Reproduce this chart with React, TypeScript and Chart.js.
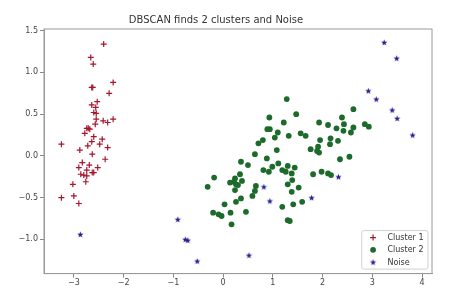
import React, { useEffect, useRef } from 'react';
import { Chart, registerables } from 'chart.js';

Chart.register(...registerables);

const TITLE = 'DBSCAN finds 2 clusters and Noise';
const seriesNames = ['Cluster 1', 'Cluster 2', 'Noise'];

const cluster1X = [-2.40, -2.66, -2.61, -2.21, -2.64, -2.62, -2.29, -2.53, -2.64, -2.56, -2.60, -2.55, -2.55, -2.41, -2.32, -2.21, -2.57, -2.74, -2.68, -2.71, -2.78, -2.60, -2.43, -2.64, -3.25, -2.48, -2.72, -2.32, -2.88, -2.63, -2.37, -2.90, -2.69, -2.52, -2.83, -2.74, -2.63, -2.60, -2.86, -2.80, -2.74, -2.76, -3.02, -3.25, -3.00, -2.90];
const cluster1Y = [1.34, 1.18, 1.10, 0.88, 0.82, 0.82, 0.75, 0.65, 0.61, 0.58, 0.52, 0.51, 0.44, 0.42, 0.40, 0.44, 0.38, 0.33, 0.32, 0.33, 0.27, 0.23, 0.20, 0.17, 0.14, 0.14, 0.12, 0.10, 0.07, 0.02, -0.04, -0.14, -0.11, -0.14, -0.08, -0.17, -0.20, -0.20, -0.22, -0.23, -0.24, -0.31, -0.34, -0.50, -0.48, -0.57];

const cluster2X = [1.28, 0.93, 1.22, 0.89, 0.94, 1.10, 1.04, 1.32, 0.80, 0.71, 1.08, 0.64, 0.88, 0.36, 0.50, 0.99, 1.11, 0.81, 0.92, 1.19, 1.26, 1.30, -0.18, 0.24, 0.34, 0.14, 0.26, 0.30, 0.38, 0.24, -0.31, 0.66, 0.64, 0.59, 0.36, 0.26, 0.03, 1.30, 1.19, -0.20, -0.09, -0.03, 0.15, 0.46, 0.17, 1.30, 1.34, 1.47, 1.93, 2.11, 2.39, 2.62, 2.43, 2.28, 2.42, 2.62, 2.57, 2.85, 2.93, 1.56, 1.66, 1.95, 2.16, 2.31, 2.15, 1.91, 1.76, 1.89, 1.93, 2.35, 2.54, 1.44, 1.38, 1.39, 1.52, 1.38, 1.81, 1.98, 2.11, 2.17, 1.59, 1.41, 0.22];
const cluster2Y = [0.68, 0.46, 0.40, 0.32, 0.32, 0.28, 0.22, 0.24, 0.19, 0.15, 0.07, 0.02, -0.03, -0.07, -0.11, -0.13, -0.09, -0.17, -0.19, -0.17, -0.19, -0.12, -0.26, -0.27, -0.22, -0.32, -0.34, -0.35, -0.30, -0.41, -0.37, -0.36, -0.42, -0.48, -0.51, -0.55, -0.58, -0.34, -0.61, -0.68, -0.70, -0.72, -0.68, -0.67, -0.82, -0.77, -0.78, 0.50, 0.40, 0.37, 0.46, 0.56, 0.38, 0.33, 0.30, 0.34, 0.28, 0.38, 0.35, 0.27, 0.24, 0.19, 0.21, 0.18, 0.14, 0.11, 0.08, 0.06, 0.04, -0.04, -0.01, -0.14, -0.21, -0.29, -0.38, -0.43, -0.22, -0.19, -0.21, -0.23, -0.55, -0.58, -0.31];

const noiseX = [-2.87, -0.91, -0.76, -0.71, -0.52, 0.52, 0.82, 0.94, 1.78, 2.32, 2.92, 3.08, 3.24, 3.49, 3.40, 3.50, 3.81];
const noiseY = [-0.94, -0.76, -1.00, -1.01, -1.26, -1.19, -0.37, -0.54, -0.50, -0.25, 0.78, 0.68, 1.36, 1.17, 0.55, 0.45, 0.25];

const xTicks = [-3, -2, -1, 0, 1, 2, 3, 4];
const yTicks = [-1.0, -0.5, 0.0, 0.5, 1.0, 1.5];

const RED = '#a3172f';
const GREEN = '#1d6b2b';
const BLUE = '#261c8c';
const FONT = 'DejaVu Sans';

function makeStar(color: string, r: number): HTMLCanvasElement {
  const size = Math.ceil(r * 2) + 2;
  const c = document.createElement('canvas');
  c.width = size;
  c.height = size;
  const g = c.getContext('2d')!;
  g.beginPath();
  for (let i = 0; i < 10; i++) {
    const rad = i % 2 === 0 ? r : r * 0.4;
    const a = -Math.PI / 2 + (i * Math.PI) / 5;
    const x = size / 2 + rad * Math.cos(a);
    const y = size / 2 + 0.3 + rad * Math.sin(a);
    if (i === 0) g.moveTo(x, y);
    else g.lineTo(x, y);
  }
  g.closePath();
  g.fillStyle = color;
  g.fill();
  return c;
}

const fmtMinus = (s: string) => s.replace('-', '\u2212');

export default function App() {
  const ref = useRef<HTMLCanvasElement>(null);

  useEffect(() => {
    if (!ref.current) return;
    const star = makeStar(BLUE, 3.4);

    const framePlugin = {
      id: 'frame',
      afterDatasetsDraw(chart: any) {
        const { ctx, chartArea } = chart;
        ctx.save();
        ctx.strokeStyle = '#9a9a9a';
        ctx.lineWidth = 1;
        ctx.strokeRect(chartArea.left, chartArea.top, chartArea.right - chartArea.left, chartArea.bottom - chartArea.top);
        ctx.restore();
      },
    };

    const legendPlugin = {
      id: 'mplLegend',
      afterDraw(chart: any) {
        const { ctx, chartArea } = chart;
        ctx.save();
        ctx.font = `8px "${FONT}"`;
        const textW = Math.max(...seriesNames.map((l) => ctx.measureText(l).width));
        const rowH = 12.25;
        const boxRight = chartArea.right - 4;
        const boxBottom = chartArea.bottom - 4.5;
        const boxH = 7 + rowH * (seriesNames.length - 1) + 7;
        const boxTop = boxBottom - boxH;
        const boxW = 25.7 + textW + 4.5;
        const boxLeft = boxRight - boxW;
        ctx.beginPath();
        const r = 2;
        ctx.moveTo(boxLeft + r, boxTop);
        ctx.lineTo(boxRight - r, boxTop);
        ctx.quadraticCurveTo(boxRight, boxTop, boxRight, boxTop + r);
        ctx.lineTo(boxRight, boxBottom - r);
        ctx.quadraticCurveTo(boxRight, boxBottom, boxRight - r, boxBottom);
        ctx.lineTo(boxLeft + r, boxBottom);
        ctx.quadraticCurveTo(boxLeft, boxBottom, boxLeft, boxBottom - r);
        ctx.lineTo(boxLeft, boxTop + r);
        ctx.quadraticCurveTo(boxLeft, boxTop, boxLeft + r, boxTop);
        ctx.closePath();
        ctx.fillStyle = 'rgba(255,255,255,0.8)';
        ctx.fill();
        ctx.strokeStyle = '#d0d0d0';
        ctx.lineWidth = 1;
        ctx.stroke();

        const mx = boxLeft + 11.3;
        seriesNames.forEach((name, i) => {
          const cy = boxTop + 7 + i * rowH;
          if (i === 0) {
            ctx.strokeStyle = RED;
            ctx.lineWidth = 1.2;
            ctx.beginPath();
            ctx.moveTo(mx - 3, cy);
            ctx.lineTo(mx + 3, cy);
            ctx.moveTo(mx, cy - 3);
            ctx.lineTo(mx, cy + 3);
            ctx.stroke();
          } else if (i === 1) {
            ctx.fillStyle = GREEN;
            ctx.beginPath();
            ctx.arc(mx, cy, 2.9, 0, Math.PI * 2);
            ctx.fill();
          } else {
            ctx.drawImage(star, mx - star.width / 2, cy - star.height / 2);
          }
          ctx.fillStyle = '#333';
          ctx.textBaseline = 'middle';
          ctx.textAlign = 'left';
          ctx.fillText(name, boxLeft + 25.7, cy + 0.5);
        });
        ctx.restore();
      },
    };

    const tickFont = { family: FONT, size: 8 };

    const chart = new Chart(ref.current, {
      type: 'scatter',
      data: {
        datasets: [
          {
            label: seriesNames[0],
            data: cluster1X.map((x, i) => ({ x, y: cluster1Y[i] })),
            pointStyle: 'cross',
            pointRadius: 3,
            borderColor: RED,
            backgroundColor: RED,
            borderWidth: 1.2,
          },
          {
            label: seriesNames[1],
            data: cluster2X.map((x, i) => ({ x, y: cluster2Y[i] })),
            pointStyle: 'circle',
            pointRadius: 2.9,
            borderColor: GREEN,
            backgroundColor: GREEN,
            borderWidth: 0,
          },
          {
            label: seriesNames[2],
            data: noiseX.map((x, i) => ({ x, y: noiseY[i] })),
            pointStyle: star as any,
            pointRadius: 3.4,
            borderColor: BLUE,
            backgroundColor: BLUE,
          },
        ],
      },
      options: {
        responsive: false,
        animation: false,
        events: [],
        layout: { padding: { left: 0, right: 35, top: 0, bottom: 0 } },
        plugins: {
          legend: { display: false },
          tooltip: { enabled: false },
          title: {
            display: true,
            text: TITLE,
            color: '#333',
            font: { family: FONT, size: 10, weight: 'normal' },
            padding: { top: 14, bottom: 3 },
          },
        },
        scales: {
          x: {
            type: 'linear',
            min: -3.6,
            max: 4.2,
            afterBuildTicks: (s: any) => {
              s.ticks = xTicks.map((v) => ({ value: v }));
            },
            afterFit: (s: any) => {
              s.height = 34.4;
            },
            ticks: {
              autoSkip: false,
              maxRotation: 0,
              padding: 1,
              color: '#444',
              font: tickFont,
              callback: (v: any) => fmtMinus(String(v)),
            },
            grid: { drawOnChartArea: false, drawTicks: true, tickLength: 4, color: '#888' },
            border: { display: true, color: '#9a9a9a' },
          },
          y: {
            type: 'linear',
            min: -1.41,
            max: 1.52,
            afterBuildTicks: (s: any) => {
              s.ticks = yTicks.map((v) => ({ value: v }));
            },
            afterFit: (s: any) => {
              s.width = 44;
            },
            ticks: {
              autoSkip: false,
              padding: 2,
              color: '#444',
              font: tickFont,
              callback: (v: any) => fmtMinus(Number(v).toFixed(1)),
            },
            grid: { drawOnChartArea: false, drawTicks: true, tickLength: 4, color: '#888' },
            border: { display: true, color: '#9a9a9a' },
          },
        },
      },
      plugins: [framePlugin, legendPlugin],
    });
    return () => chart.destroy();
  }, []);

  return (
    <div style={{ position: 'fixed', left: 0, top: 0, width: 467, height: 308, background: '#fff' }}>
      <canvas ref={ref} width={467} height={308} style={{ display: 'block', width: 467, height: 308 }} />
    </div>
  );
}
